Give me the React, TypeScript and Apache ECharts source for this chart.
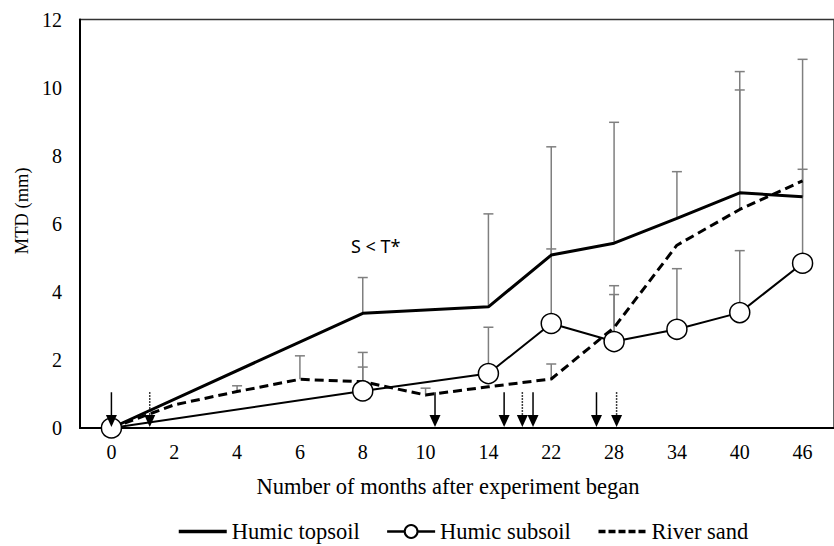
import React, { useEffect, useRef } from "react";
import * as echarts from "echarts";

// ---- data ----
const months = ["0", "2", "4", "6", "8", "10", "14", "22", "28", "34", "40", "46"];
const humicTopsoil = [0, null, null, null, 3.37, null, 3.56, 5.08, 5.43, 6.16, 6.91, 6.79];
const humicSubsoil = [0, null, null, null, 1.09, null, 1.6, 3.07, 2.54, 2.9, 3.39, 4.84];
const riverSand = [0, 0.68, 1.07, 1.43, 1.36, 0.97, 1.21, 1.44, 2.95, 5.37, 6.42, 7.26];
// upper ends of the (plus-only) error bars
const topsoilErrTop = [null, null, null, null, 4.42, null, 6.29, 8.26, 8.98, 7.53, 10.47, 10.83];
const subsoilErrTop = [null, null, null, null, 1.79, null, 2.96, 5.26, 3.92, 4.68, 5.21, 7.6];
const sandErrTop = [null, null, 1.24, 2.12, 2.22, 1.17, null, 1.88, 4.18, null, 9.93, null];
// arrow positions, in category-index units along the x axis
const solidArrowPos = [0, 5.15, 6.25, 6.71, 7.72];
const dottedArrowPos = [0.61, 6.54, 8.04];
const arrowTopValue = 1.05;
// y axis
const yMin = 0;
const yMax = 12;
const yInterval = 2;
const annotationText = "S < T*";
const annotationAt: [string, number] = ["8", 5.35];

const SERIF = "'Liberation Serif', 'Times New Roman', serif";
const HIDDEN_SYMBOL = { color: "rgba(0,0,0,0)", borderColor: "rgba(0,0,0,0)", borderWidth: 0 };

function errData(vals: (number | null)[], tops: (number | null)[]) {
  const out: number[][] = [];
  tops.forEach((t, i) => {
    const v = vals[i];
    if (t != null && v != null) out.push([i, v, t]);
  });
  return out;
}

const errRender = (params: any, api: any) => {
  const i = api.value(0);
  const p0 = api.coord([i, api.value(1)]);
  const p1 = api.coord([i, api.value(2)]);
  const half = 5;
  const style = { stroke: "#7f7f7f", lineWidth: 1.5 };
  return {
    type: "group",
    children: [
      { type: "line", shape: { x1: p0[0], y1: p0[1], x2: p1[0], y2: p1[1] }, style },
      { type: "line", shape: { x1: p1[0] - half, y1: p1[1], x2: p1[0] + half, y2: p1[1] }, style },
    ],
  };
};

const arrowRender = (params: any, api: any) => {
  const x = api.value(0);
  const pTop = api.coord([x, api.value(1)]);
  const pBot = api.coord([x, 0]);
  const dotted = api.value(2) === 1;
  const headH = 13;
  const headW = 5.5;
  return {
    type: "group",
    children: [
      {
        type: "line",
        shape: { x1: pTop[0], y1: pTop[1], x2: pTop[0], y2: pBot[1] - headH + 1 },
        style: { stroke: "#000", lineWidth: 1.5, lineDash: dotted ? [1.5, 1.5] : null },
      },
      {
        type: "polygon",
        shape: {
          points: [
            [pBot[0] - headW, pBot[1] - headH],
            [pBot[0] + headW, pBot[1] - headH],
            [pBot[0], pBot[1] - 1],
          ],
        },
        style: { fill: "#000" },
      },
    ],
  };
};

export default function App() {
  const ref = useRef<HTMLDivElement>(null);
  useEffect(() => {
    if (!ref.current) return;
    const chart = echarts.init(ref.current, null, { renderer: "svg" });
    const arrowData = [
      ...solidArrowPos.map((p) => [p, arrowTopValue, 0]),
      ...dottedArrowPos.map((p) => [p, arrowTopValue, 1]),
    ];
    chart.setOption({
      animation: false,
      textStyle: { fontFamily: SERIF, color: "#000" },
      grid: {
        left: 80,
        top: 19.5,
        width: 764.4,
        height: 408.5,
        show: true,
        borderColor: "#333",
        borderWidth: 1.5,
        backgroundColor: "transparent",
      },
      legend: {
        left: 172,
        top: 515,
        itemWidth: 48,
        itemHeight: 16,
        itemGap: 26,
        textStyle: { fontFamily: SERIF, fontSize: 22.5, color: "#000" },
        data: [
          { name: "Humic topsoil", itemStyle: HIDDEN_SYMBOL, lineStyle: { color: "#000", width: 3.5 } },
          { name: "Humic subsoil", lineStyle: { color: "#000", width: 2.5 } },
          {
            name: "River sand",
            itemStyle: HIDDEN_SYMBOL,
            lineStyle: { color: "#000", width: 3.5, type: [7, 3] },
          },
        ],
      },
      xAxis: [
        {
          type: "category",
          data: months,
          boundaryGap: true,
          axisTick: { show: false },
          axisLine: { show: true, onZero: false, lineStyle: { color: "#000", width: 2 } },
          axisLabel: { fontFamily: SERIF, fontSize: 20, color: "#000", margin: 14 },
          name: "Number of months after experiment began",
          nameLocation: "middle",
          nameGap: 47,
          nameTextStyle: { fontFamily: SERIF, fontSize: 22.5, color: "#000", padding: [0, 18, 0, 0] },
          splitLine: { show: false },
        },
        { type: "value", show: false, min: -0.5, max: 11.5 },
      ],
      yAxis: {
        type: "value",
        min: yMin,
        max: yMax,
        interval: yInterval,
        axisTick: { show: false },
        axisLine: { show: true, onZero: false, lineStyle: { color: "#000", width: 2 } },
        splitLine: { show: false },
        axisLabel: { fontFamily: SERIF, fontSize: 20, color: "#000", margin: 18 },
        name: "MTD (mm)",
        nameLocation: "middle",
        nameGap: 45,
        nameTextStyle: { fontFamily: SERIF, fontSize: 18.5, color: "#000", padding: [0, 0, 0, 26] },
      },
      series: [
        {
          type: "custom",
          name: "err-top",
          renderItem: errRender,
          data: errData(humicTopsoil, topsoilErrTop),
          encode: { x: 0, y: [1, 2] },
          z: 1,
          silent: true,
        },
        {
          type: "custom",
          name: "err-sub",
          renderItem: errRender,
          data: errData(humicSubsoil, subsoilErrTop),
          encode: { x: 0, y: [1, 2] },
          z: 1,
          silent: true,
        },
        {
          type: "custom",
          name: "err-sand",
          renderItem: errRender,
          data: errData(riverSand, sandErrTop),
          encode: { x: 0, y: [1, 2] },
          z: 1,
          silent: true,
        },
        {
          type: "line",
          name: "Humic topsoil",
          data: humicTopsoil,
          connectNulls: true,
          symbol: "none",
          lineStyle: { color: "#000", width: 3 },
          itemStyle: { color: "#000" },
          z: 3,
          markPoint: {
            symbol: "circle",
            symbolSize: 1,
            itemStyle: { color: "transparent" },
            label: {
              show: true,
              position: "inside",
              offset: [13, 0],
              formatter: annotationText,
              fontFamily: "'Noto Sans', 'Open Sans', sans-serif",
              fontSize: 18,
              color: "#000",
            },
            data: [{ coord: annotationAt }],
          },
        },
        {
          type: "line",
          name: "Humic subsoil",
          data: humicSubsoil,
          connectNulls: true,
          symbol: "circle",
          symbolSize: 20,
          showAllSymbol: true,
          lineStyle: { color: "#000", width: 2 },
          itemStyle: { color: "#fff", borderColor: "#000", borderWidth: 1.5 },
          z: 4,
        },
        {
          type: "line",
          name: "River sand",
          data: riverSand,
          symbol: "none",
          lineStyle: { color: "#000", width: 3, type: [9, 5] },
          itemStyle: { color: "#000" },
          z: 3,
        },
        {
          type: "custom",
          name: "arrows",
          xAxisIndex: 1,
          renderItem: arrowRender,
          data: arrowData,
          encode: { x: 0, y: 1 },
          z: 10,
          silent: true,
        },
      ],
    });
    return () => chart.dispose();
  }, []);
  return (
    <div
      ref={ref}
      style={{ position: "fixed", left: 0, top: 0, width: 834, height: 546, background: "#fff" }}
    />
  );
}
